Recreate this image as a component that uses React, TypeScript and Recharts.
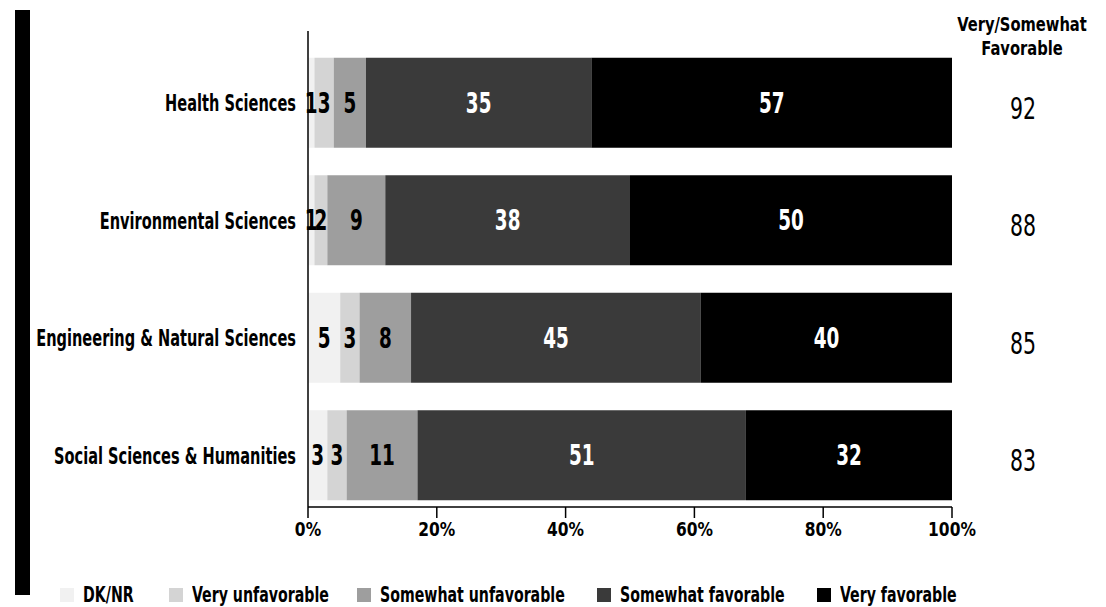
import React from 'react';
import { BarChart, Bar, XAxis, YAxis, LabelList } from 'recharts';

const categories = [
  'Health Sciences',
  'Environmental Sciences',
  'Engineering & Natural Sciences',
  'Social Sciences & Humanities',
];
const dknr = [1, 1, 5, 3];
const veryUnfavorable = [3, 2, 3, 3];
const somewhatUnfavorable = [5, 9, 8, 11];
const somewhatFavorable = [35, 38, 45, 51];
const veryFavorable = [57, 50, 40, 32];
const favorableTotal = [92, 88, 85, 83];
const xTicks = [0, 20, 40, 60, 80, 100];

const data = categories.map((c, i) => ({
  category: c,
  dknr: dknr[i],
  veryUnfavorable: veryUnfavorable[i],
  somewhatUnfavorable: somewhatUnfavorable[i],
  somewhatFavorable: somewhatFavorable[i],
  veryFavorable: veryFavorable[i],
  total: favorableTotal[i],
}));

const series = [
  { key: 'dknr', name: 'DK/NR', color: '#f1f1f1', text: '#000' },
  { key: 'veryUnfavorable', name: 'Very unfavorable', color: '#d4d4d4', text: '#000' },
  { key: 'somewhatUnfavorable', name: 'Somewhat unfavorable', color: '#9e9e9e', text: '#000' },
  { key: 'somewhatFavorable', name: 'Somewhat favorable', color: '#3a3a3a', text: '#fff' },
  { key: 'veryFavorable', name: 'Very favorable', color: '#000000', text: '#fff' },
];

const FONT = "'DejaVu Sans Condensed', 'DejaVu Sans', sans-serif";

const Squeezed = ({ x, y, children, size, k, weight = 700, anchor = 'middle', fill = '#000', dy = '0' }: any) => (
  <text
    transform={`translate(${x} ${y}) scale(${k} 1)`}
    x={0}
    y={0}
    dy={dy}
    textAnchor={anchor}
    fontFamily={FONT}
    fontSize={size}
    fontWeight={weight}
    fill={fill}
  >
    {children}
  </text>
);

const CategoryTick = (props: any) => {
  const { x, y, payload } = props;
  return (
    <Squeezed x={x} y={y} size={23} k={0.705} anchor="end" dy="0.36em">
      {payload.value}
    </Squeezed>
  );
};

const TotalTick = (props: any) => {
  const { x, y, payload } = props;
  return (
    <Squeezed x={x + 71} y={y + 5} size={30} k={0.76} weight={400} anchor="middle" dy="0.36em">
      {payload.value}
    </Squeezed>
  );
};

const PctTick = (props: any) => {
  const { x, y, payload } = props;
  return (
    <Squeezed x={x} y={y} size={20} k={0.86} anchor="middle" dy="0.71em">
      {`${payload.value}%`}
    </Squeezed>
  );
};

const makeLabel = (fill: string) => (props: any) => {
  const { x, y, width, height, value } = props;
  return (
    <Squeezed x={x + width / 2} y={y + height / 2} size={28} k={0.73} fill={fill} dy="0.36em">
      {value}
    </Squeezed>
  );
};

const legendLefts = [60, 169, 357, 597, 817];

export default function App() {
  return (
    <div style={{ position: 'absolute', left: 0, top: 0, width: 1106, height: 607, background: '#fff', overflow: 'hidden' }}>
      <div style={{ position: 'absolute', left: 15, top: 10, width: 15, height: 585, background: '#000' }} />
      <BarChart
        width={1106}
        height={607}
        data={data}
        layout="vertical"
        margin={{ top: 31, right: 0, bottom: 60, left: 0 }}
        barCategoryGap="11.7%"
      >
        <XAxis
          type="number"
          domain={[0, 100]}
          ticks={xTicks}
          allowDataOverflow
          height={40}
          tickSize={11}
          tickMargin={4}
          axisLine={{ stroke: '#000', strokeWidth: 1.5 }}
          tickLine={{ stroke: '#000', strokeWidth: 1.5 }}
          tick={<PctTick />}
        />
        <YAxis
          yAxisId="left"
          type="category"
          dataKey="category"
          width={308}
          padding={{ top: 13, bottom: -7 }}
          tickSize={0}
          tickMargin={12}
          axisLine={{ stroke: '#000', strokeWidth: 1.5 }}
          tickLine={false}
          tick={<CategoryTick />}
        />
        <YAxis
          yAxisId="right"
          orientation="right"
          type="category"
          dataKey="total"
          width={154}
          padding={{ top: 13, bottom: -7 }}
          tickSize={0}
          tickMargin={0}
          axisLine={false}
          tickLine={false}
          tick={<TotalTick />}
        />
        {series.map((s) => (
          <Bar key={s.key} yAxisId="left" dataKey={s.key} name={s.name} stackId="a" fill={s.color} isAnimationActive={false}>
            <LabelList dataKey={s.key} content={makeLabel(s.text)} />
          </Bar>
        ))}
      </BarChart>
      <div style={{ position: 'absolute', left: 922, top: 12, width: 200, textAlign: 'center', fontFamily: FONT, fontWeight: 700, fontSize: 19, lineHeight: '24px', transform: 'scaleX(0.86)', transformOrigin: 'center' }}>
        Very/Somewhat<br />Favorable
      </div>
      {series.map((s, i) => (
        <div key={s.key} style={{ position: 'absolute', left: legendLefts[i], top: 583, height: 24, display: 'flex', alignItems: 'center', fontFamily: FONT, fontWeight: 700, fontSize: 21, lineHeight: '24px', whiteSpace: 'nowrap' }}>
          <span style={{ display: 'inline-block', width: 14, height: 14, background: s.color, marginRight: 9 }} />
          <span style={{ display: 'inline-block', transform: 'scaleX(0.75)', transformOrigin: 'left center' }}>{s.name}</span>
        </div>
      ))}
    </div>
  );
}
